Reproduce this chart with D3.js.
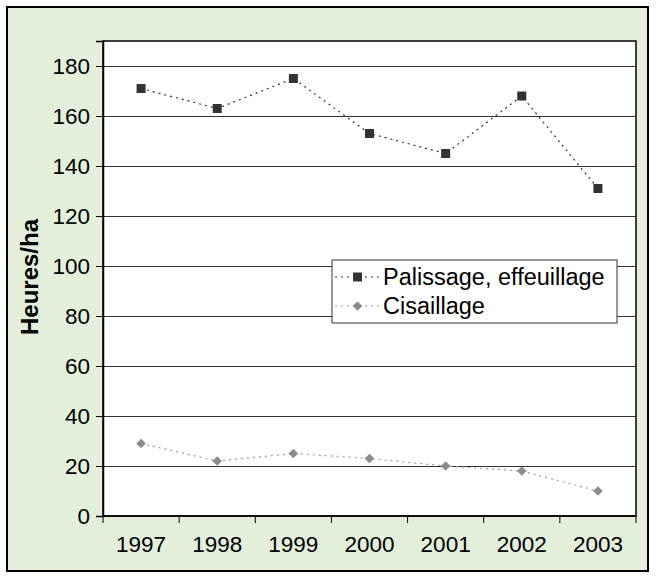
<!DOCTYPE html>
<html>
<head>
<meta charset="utf-8">
<script src="https://cdn.jsdelivr.net/npm/d3@7"></script>
<style>
  body { margin: 0; background: #fff; }
  text { font-family: "Liberation Sans", Arial, sans-serif; }
</style>
</head>
<body>
<div id="chart"></div>
<script>
const years = ['1997', '1998', '1999', '2000', '2001', '2002', '2003']
const palissage = [171, 163, 175, 153, 145, 168, 131]
const cisaillage = [29, 22, 25, 23, 20, 18, 10]
const yTicks = [0, 20, 40, 60, 80, 100, 120, 140, 160, 180]
const seriesNames = ['Palissage, effeuillage', 'Cisaillage']

const W = 657, H = 578
const pLeft = 103, pTop = 41, pRight = 636, pBottom = 516
const fs = 22.5

const svg = d3.select('#chart').append('svg')
  .attr('width', W)
  .attr('height', H)

// outer frame
svg.append('rect')
  .attr('x', 7).attr('y', 7)
  .attr('width', 641).attr('height', 564)
  .attr('fill', '#e3eedb')
  .attr('stroke', '#000')
  .attr('stroke-width', 2)

// plot area
svg.append('rect')
  .attr('x', pLeft).attr('y', pTop)
  .attr('width', pRight - pLeft).attr('height', pBottom - pTop)
  .attr('fill', '#fff')

const x = d3.scaleBand().domain(years).range([pLeft, pRight])
const y = d3.scaleLinear().domain([0, 190]).range([pBottom, pTop])

// grid
svg.append('g').selectAll('line')
  .data(yTicks.filter(d => d > 0))
  .enter().append('line')
  .attr('x1', pLeft).attr('x2', pRight)
  .attr('y1', d => Math.round(y(d)) + 0.5)
  .attr('y2', d => Math.round(y(d)) + 0.5)
  .attr('stroke', '#333')
  .attr('stroke-width', 1)

// plot border
svg.append('rect')
  .attr('x', pLeft).attr('y', pTop)
  .attr('width', pRight - pLeft).attr('height', pBottom - pTop)
  .attr('fill', 'none')
  .attr('stroke', '#000')
  .attr('stroke-width', 1.5)

// y axis
const yAxis = d3.axisLeft(y).tickValues(yTicks).tickSize(7).tickPadding(6)
const gy = svg.append('g')
  .attr('transform', `translate(${pLeft},0)`)
  .call(yAxis)
  .attr('font-size', fs)
  .attr('font-family', '"Liberation Sans", Arial, sans-serif')
gy.select('.domain').attr('stroke', '#000').attr('stroke-width', 1.5)
gy.selectAll('.tick line').attr('stroke', '#000')
gy.selectAll('text').attr('font-size', fs).attr('fill', '#000')

// x axis: ticks on category boundaries
const xAxisG = svg.append('g').attr('transform', `translate(0,${pBottom})`)
xAxisG.append('line')
  .attr('x1', pLeft).attr('x2', pRight)
  .attr('y1', 0).attr('y2', 0)
  .attr('stroke', '#000').attr('stroke-width', 1.5)
xAxisG.selectAll('.bnd')
  .data(years.concat(['end']))
  .enter().append('line')
  .attr('class', 'bnd')
  .attr('x1', (d, i) => pLeft + i * x.bandwidth())
  .attr('x2', (d, i) => pLeft + i * x.bandwidth())
  .attr('y1', 0).attr('y2', 7)
  .attr('stroke', '#000')
xAxisG.selectAll('text')
  .data(years)
  .enter().append('text')
  .attr('x', d => x(d) + x.bandwidth() / 2)
  .attr('y', 36)
  .attr('text-anchor', 'middle')
  .attr('font-size', fs)
  .text(d => d)

// y label
svg.append('text')
  .attr('transform', 'translate(38,277) rotate(-90)')
  .attr('text-anchor', 'middle')
  .attr('font-size', 24)
  .attr('font-weight', 'bold')
  .text('Heures/ha')

const cx = (d, i) => x(years[i]) + x.bandwidth() / 2
const line = d3.line().x((d, i) => cx(d, i)).y(d => y(d))

// Palissage
svg.append('path').datum(palissage)
  .attr('d', line)
  .attr('fill', 'none')
  .attr('stroke', '#333')
  .attr('stroke-width', 1.2)
  .attr('stroke-dasharray', '2,4')
svg.append('g').selectAll('rect')
  .data(palissage)
  .enter().append('rect')
  .attr('x', (d, i) => cx(d, i) - 4.5)
  .attr('y', d => y(d) - 4.5)
  .attr('width', 9).attr('height', 9)
  .attr('fill', '#333')

// Cisaillage
svg.append('path').datum(cisaillage)
  .attr('d', line)
  .attr('fill', 'none')
  .attr('stroke', '#999')
  .attr('stroke-width', 1.2)
  .attr('stroke-dasharray', '2,4')
const diamond = d3.symbol().type(d3.symbolDiamond2).size(60)
svg.append('g').selectAll('path')
  .data(cisaillage)
  .enter().append('path')
  .attr('d', diamond)
  .attr('transform', (d, i) => `translate(${cx(d, i)},${y(d)})`)
  .attr('fill', '#8c8c8c')

// legend
const legend = svg.append('g').attr('transform', 'translate(332,260)')
legend.append('rect')
  .attr('width', 285).attr('height', 63)
  .attr('fill', '#fff')
  .attr('stroke', '#333')
  .attr('stroke-width', 1)
const rows = legend.selectAll('.row')
  .data(seriesNames)
  .enter().append('g')
  .attr('transform', (d, i) => `translate(0,${17 + i * 29})`)
rows.append('line')
  .attr('x1', 3).attr('x2', 48)
  .attr('stroke', (d, i) => i ? '#999' : '#333')
  .attr('stroke-width', 1.2)
  .attr('stroke-dasharray', '2,4')
rows.filter((d, i) => i === 0).append('rect')
  .attr('x', 21).attr('y', -4.5)
  .attr('width', 9).attr('height', 9)
  .attr('fill', '#333')
rows.filter((d, i) => i === 1).append('path')
  .attr('d', diamond)
  .attr('transform', 'translate(25.5,0)')
  .attr('fill', '#8c8c8c')
rows.append('text')
  .attr('x', 51)
  .attr('y', 8)
  .attr('font-size', 23.5)
  .text(d => d)
</script>
</body>
</html>
